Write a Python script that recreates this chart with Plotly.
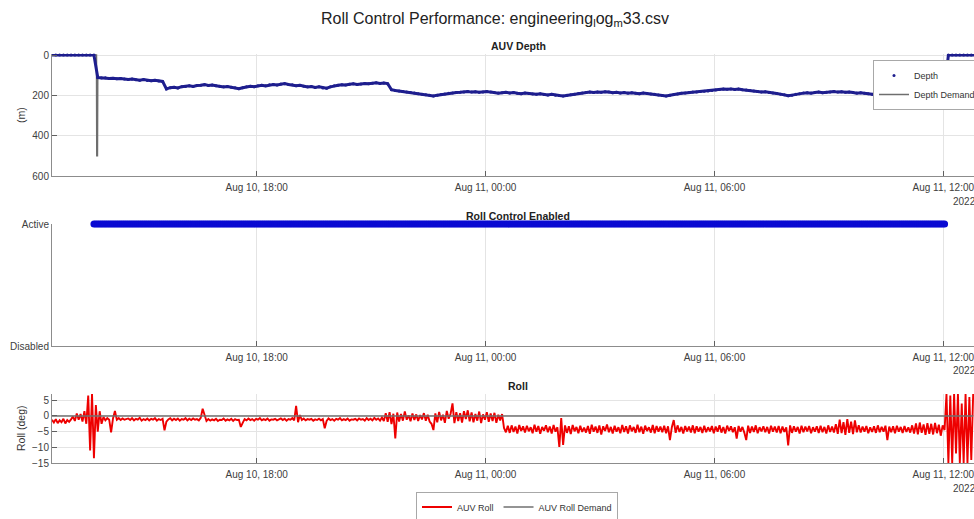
import pandas as pd
import plotly.graph_objects as go

FONT = "Liberation Sans, Arial, Helvetica, sans-serif"
W, H = 974, 519
ML = 52  # left margin in px


def px(x):
    # paper x is measured across the plot area (between margins)
    return (x - ML) / (W - ML)


def py(y):
    return 1 - y / H


# ---------------- data ----------------
x_range = ["2022-08-10 12:38:02", "2022-08-11 12:48:17"]
tick_times = ["2022-08-10 18:00", "2022-08-11 00:00", "2022-08-11 06:00", "2022-08-11 12:00"]
tick_labels = ["Aug 10, 18:00", "Aug 11, 00:00", "Aug 11, 06:00", "Aug 11, 12:00"]

# depth (m), sampled every 6 minutes from 12:38 on Aug 10
depth_start = "2022-08-10 12:38"
depth_m = [
    0, 0, 0, 0, 0, 0, 0, 0, 0, 0, 0, 0,
    112, 114, 113, 116, 115, 118, 116, 119, 121, 119, 123, 125, 122, 126, 128, 125, 129, 131,
    168, 162, 160, 163, 157, 156, 153, 156, 151, 150,
    147, 151, 149, 152, 155, 158, 156, 160, 162, 167,
    162, 158, 155, 157, 152, 150, 153, 148, 146, 149,
    144, 142, 146, 148, 152, 150, 155, 158, 156, 161,
    158, 163, 165, 158, 153, 150, 147, 149, 145, 143,
    146, 144, 141, 143, 140, 138, 141, 139, 142,
    172, 176, 179, 181, 184, 186, 189, 192, 195, 197,
    200, 203, 199, 196, 193, 190, 188, 186, 185, 183,
    181, 184, 182, 185, 183, 181, 184, 186, 189, 187,
    185, 188, 186, 190, 192, 189, 191, 193, 195, 192,
    196, 198, 195, 199, 201, 203, 200, 197, 194, 191,
    189, 186, 184, 186, 183, 185, 182, 184, 187, 185,
    188, 186, 189, 187, 190, 192, 189, 191, 193, 195,
    198, 201, 203, 200, 196, 193, 190, 188, 186, 184,
    183, 181, 180, 178, 176, 173, 171, 169, 170, 168,
    171, 169, 172, 174, 176, 179, 181, 184, 182, 186,
    188, 191, 194, 197, 202, 199, 195, 192, 189, 187,
    189, 186, 184, 187, 185, 183, 181, 184, 182, 185,
    183, 186, 189, 187, 190, 192, 194, 197, 196, 199,
    197, 195, 192, 189, 187, 185, 184, 182, 180, 178,
    179, 177, 176, 178, 176, 175,
    0, 0, 0, 0, 0, 0, 0, 0,
]

# depth demand spike at the start of the dive
demand_spike_times = ["2022-08-10 12:38:00", "2022-08-10 13:48:00", "2022-08-10 13:48:30",
                      "2022-08-10 13:49:30", "2022-08-10 13:50:00"]
demand_spike_m = [0, 0, 500, 500, 115]

# roll (deg), sampled every 3 minutes from 12:38 on Aug 10
roll_start = "2022-08-10 12:38"
roll_deg = [
    -1.2, -2.1, -1.0, -2.3, -1.4, -2.0, -0.9, -2.4, -1.3, -1.9, -1.1, -0.2, -1.6, 0.8, -1.2, 0.6, -1.8, 1.5, -2.5, 6.5,
    -11.0, 7.0, -13.5, 3.5, -5.0, 1.5, -2.5, -0.3, -1.4, -0.7, -1.2, -5.2, -0.8, 1.6, -1.2, -0.7, -1.3, -0.8, -1.2, -0.9,
    -0.8, -1.3, -0.7, -1.4, -0.9, -1.2, -0.6, -1.5, -1.0, -1.3, -0.8, -1.4, -0.9, -1.2, -0.7, -1.5, -1.0, -1.3, -0.9, -4.6,
    -1.8, -1.1, -0.7, -1.4, -0.9, -1.3, -0.8, -1.5, -1.0, -1.2, -0.7, -1.4, -0.9, -1.3, -0.8, -1.2, -1.0, -1.4, -0.6, 2.3,
    0.6, -1.6, -1.0, -1.5, -1.1, -1.4, -0.9, -1.6, -1.2, -1.3, -0.8, -1.5, -1.1, -1.4, -0.9, -1.6, -1.0, -1.3, -1.2, -3.5,
    -2.2, -1.0, -1.4, -0.8, -1.3, -1.0, -1.5, -0.9, -1.2, -0.7, -1.4, -1.0, -1.3, -0.8, -1.5, -1.1, -1.2, -0.9, -1.4, -1.0,
    -0.8, -1.3, -0.9, -1.5, -1.0, -1.2, -0.7, -1.4, 3.2, -2.0, 0.3, -1.3, -0.8, -1.4, -1.0, -1.2, -0.9, -1.5, -1.1, -1.3,
    -0.9, -1.4, -1.0, -3.9, -1.6, -0.8, -1.3, -1.0, -1.5, -0.9, -1.2, -0.7, -1.4, -1.0, -1.3, -0.8, -1.5, -1.1, -1.2, -0.9,
    -1.4, -0.8, -1.2, -1.0, -1.5, -0.7, -1.3, -0.9, -1.4, -0.6, -1.2, -0.8, -1.5, -0.5, -1.6, 0.9, -1.9, 1.2, -2.6, 0.7,
    -7.2, 1.1, -1.8, 0.6, -1.5, 1.4, -1.2, 0.2, -1.7, 0.8, -1.3, 0.5, -1.6, 0.3, -1.1, 0.9, -1.5, 0.4, -1.8, -2.5,
    -4.5, 0.8, -2.0, 1.3, -1.4, 0.4, -2.2, 1.6, -0.9, 0.7, 4.0, -2.3, 1.2, -1.6, 0.9, -2.1, 1.5, -1.0, 1.8, -1.7,
    1.1, -2.0, 0.6, -1.5, 1.4, -2.3, 0.5, -1.2, 1.2, -1.9, 0.8, -1.6, 1.0, -2.2, 0.4, -1.4, 0.6, -3.8, -5.2, -3.1,
    -5.4, -3.0, -5.1, -3.4, -5.6, -2.9, -4.8, -3.3, -5.3, -3.1, -4.9, -3.6, -5.5, -2.8, -5.0, -3.2, -5.7, -3.5, -4.7, -3.0,
    -5.2, -3.4, -5.6, -2.9, -5.0, -3.6, -9.9, -0.7, -9.2, -3.0, -5.4, -3.3, -5.8, -2.9, -4.9, -3.5, -5.5, -3.1, -5.1, -3.7,
    -5.3, -3.2, -5.7, -2.8, -5.0, -3.4, -5.4, -3.0, -5.9, -3.3, -4.8, -2.7, -5.2, -3.5, -5.6, -3.1, -5.0, -3.6, -5.5, -2.9,
    -5.1, -3.3, -5.6, -3.0, -4.9, -3.5, -5.4, -2.8, -5.2, -3.4, -5.7, -3.1, -4.8, -3.6, -5.3, -2.9, -5.5, -3.2, -5.0, -3.4,
    -5.2, -3.1, -5.5, -3.3, -7.7, -3.6, -1.3, -5.4, -3.0, -5.1, -3.5, -5.6, -3.2, -4.9, -3.4, -5.3, -3.0, -5.5, -3.3, -5.0,
    -3.5, -5.4, -3.1, -5.2, -3.6, -4.9, -3.2, -5.5, -3.4, -5.0, -3.0, -5.3, -3.5, -5.6, -3.1, -4.8, -3.3, -5.2, -3.6, -7.2,
    -3.2, -5.0, -3.5, -5.3, -7.7, -3.1, -5.4, -3.4, -5.1, -3.0, -5.5, -3.6, -4.9, -3.3, -5.2, -3.5, -5.6, -3.1, -5.0, -3.4,
    -5.3, -3.2, -5.5, -3.4, -5.1, -3.6, -9.4, -3.0, -5.4, -3.3, -5.0, -3.5, -5.6, -3.1, -5.2, -3.4, -4.9, -3.2, -5.5, -3.6,
    -5.0, -3.3, -5.4, -3.1, -5.2, -3.5, -5.6, -3.0, -5.1, -3.4, -5.3, -2.6, -5.7, -1.2, -5.5, -2.0, -6.0, -1.0, -5.4, -1.8,
    -5.8, -1.4, -5.2, -3.0, -5.3, -3.4, -5.0, -3.2, -5.5, -3.6, -5.1, -3.3, -5.4, -3.0, -5.2, -3.5, -5.0, -3.1, -7.7, -3.4,
    -5.2, -3.3, -5.5, -3.1, -5.0, -3.5, -5.4, -3.2, -5.1, -3.6, -5.3, -3.0, -5.6, -2.4, -5.9, -2.1, -5.4, -2.7, -6.0, -2.3,
    -5.7, -2.5, -5.9, -2.2, -5.5, -2.8, -6.3, -3.0, -4.5, 7.0, -15.0, 6.5, -15.0, 7.0, -12.0, 7.0, -15.0, 4.0, -15.0, 7.0,
    -15.0, 6.0, -14.0, 7.0,
]

roll_demand_times = ["2022-08-10 12:38:00", "2022-08-11 12:47:00"]
roll_demand_deg = [0, 0]

roll_enabled_on = "2022-08-10 13:42:00"
roll_enabled_off = "2022-08-11 12:02:00"

# ---------------- derived series ----------------
depth_times = pd.date_range(depth_start, periods=len(depth_m), freq="6min")
roll_times = pd.date_range(roll_start, periods=len(roll_deg), freq="3min")

spike_ts = [pd.Timestamp(t) for t in demand_spike_times]
after = depth_times > spike_ts[-1]
demand_times = spike_ts + list(depth_times[after])
demand_m = demand_spike_m + [d for d, a in zip(depth_m, after) if a]

en_mask = (roll_times >= pd.Timestamp(roll_enabled_on)) & (roll_times <= pd.Timestamp(roll_enabled_off))
enabled_times = roll_times[en_mask]
enabled_vals = [1] * len(enabled_times)

# ---------------- figure ----------------
DEPTH_C = "#1e1e8e"
fig = go.Figure()

fig.add_trace(go.Scatter(x=demand_times, y=demand_m, mode="lines", name="Depth Demand",
                         line=dict(color="#6e6e6e", width=1.5), xaxis="x", yaxis="y",
                         legend="legend", legendrank=2))
fig.add_trace(go.Scatter(x=depth_times, y=depth_m, mode="lines", name="Depth", showlegend=False,
                         line=dict(color=DEPTH_C, width=3), xaxis="x", yaxis="y"))
fig.add_trace(go.Scatter(x=depth_times, y=depth_m, mode="markers", name="Depth",
                         marker=dict(color=DEPTH_C, size=3), cliponaxis=False,
                         xaxis="x", yaxis="y", legend="legend", legendrank=1))

fig.add_trace(go.Scatter(x=enabled_times, y=enabled_vals, mode="markers", showlegend=False,
                         marker=dict(color="#0a0ad2", size=7), cliponaxis=False,
                         xaxis="x2", yaxis="y2"))

fig.add_trace(go.Scatter(x=roll_times, y=roll_deg, mode="lines", name="AUV Roll",
                         line=dict(color="#ee0000", width=1.9), xaxis="x3", yaxis="y3",
                         legend="legend2"))
fig.add_trace(go.Scatter(x=roll_demand_times, y=roll_demand_deg, mode="lines", name="AUV Roll Demand",
                         line=dict(color="#707070", width=1.5), xaxis="x3", yaxis="y3",
                         legend="legend2"))

AXC = "#8c8c8c"
GRID = "#e4e4e4"
TICKF = dict(family=FONT, size=10, color="#404040")


def xax(anchor):
    return dict(type="date", range=x_range, tickvals=tick_times, ticktext=tick_labels,
                ticks="inside", ticklen=5, tickcolor="#606060", showgrid=True, gridcolor=GRID,
                showline=True, linecolor=AXC, linewidth=1, zeroline=False, tickfont=TICKF,
                ticklabeloverflow="allow", ticklabelstandoff=2,
                domain=[0, 1], anchor=anchor, fixedrange=True)


def yax(domain, rng, tickvals, anchor, ticktext=None):
    d = dict(domain=domain, range=rng, tickvals=tickvals, ticks="inside", ticklen=5,
             tickcolor="#606060", showgrid=True, gridcolor=GRID, showline=True, linecolor=AXC,
             linewidth=1, zeroline=False, tickfont=TICKF, anchor=anchor, fixedrange=True)
    if ticktext is not None:
        d["ticktext"] = ticktext
    return d


# depth axis: 0 m at y=55 px, 600 m at y=176 px; small headroom above 0
ya1 = yax([py(176), py(54)], [600, -5], [0, 200, 400, 600], "x")
ya2 = yax([py(346), py(224)], [0, 1], [0, 1], "x2", ["Disabled", "Active"])
ya3 = yax([py(463), py(394)], [-15, 7], [5, 0, -5, -10, -15], "x3")

annotations = [
    dict(text="Roll Control Performance: engineering<sub>l</sub>og<sub>m</sub>33.csv",
         x=px(495), y=py(19), font=dict(family=FONT, size=16, color="#222")),
    dict(text="<b>AUV Depth</b>", x=px(518), y=py(46), font=dict(family=FONT, size=10.5, color="#222")),
    dict(text="<b>Roll Control Enabled</b>", x=px(518), y=py(216), font=dict(family=FONT, size=10.5, color="#222")),
    dict(text="<b>Roll</b>", x=px(518), y=py(386), font=dict(family=FONT, size=10.5, color="#222")),
    dict(text="(m)", x=px(21), y=py(115), textangle=-90, font=dict(family=FONT, size=10.5, color="#333")),
    dict(text="Roll (deg)", x=px(21), y=py(428), textangle=-90, font=dict(family=FONT, size=10.5, color="#333")),
]
for yy in (201, 370, 488):
    annotations.append(dict(text="2022", x=px(951), y=py(yy), xanchor="left",
                            font=dict(family=FONT, size=10, color="#404040")))
for a in annotations:
    a.setdefault("xref", "paper")
    a.setdefault("yref", "paper")
    a.setdefault("showarrow", False)
    a.setdefault("xanchor", "center")
    a.setdefault("yanchor", "middle")

fig.update_layout(
    width=W, height=H,
    margin=dict(l=ML, r=0, t=0, b=0, autoexpand=False),
    paper_bgcolor="white", plot_bgcolor="white",
    font=dict(family=FONT, size=10, color="#333"),
    xaxis=xax("y"), xaxis2=xax("y2"), xaxis3=xax("y3"),
    yaxis=ya1, yaxis2=ya2, yaxis3=ya3,
    annotations=annotations,
    legend=dict(x=px(873), y=py(60), xanchor="left", yanchor="top", bgcolor="white",
                bordercolor="#a8a8a8", borderwidth=1, font=dict(family=FONT, size=9, color="#333"),
                tracegroupgap=0, traceorder="normal"),
    legend2=dict(orientation="h", x=px(517), y=py(507), xanchor="center", yanchor="middle",
                 bgcolor="white", bordercolor="#a8a8a8", borderwidth=1,
                 font=dict(family=FONT, size=9, color="#333")),
    showlegend=True,
)

fig.write_html("out.html", config={"displayModeBar": False},
               post_script="document.body.style.margin='0px';")
